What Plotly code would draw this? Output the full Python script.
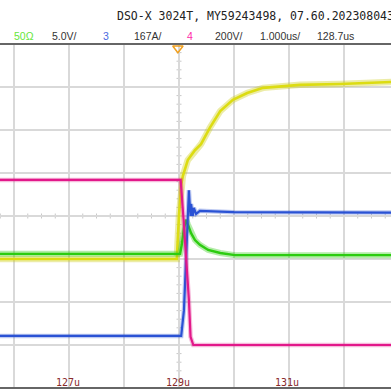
import numpy as np
import plotly.graph_objects as go

# ---- data (time in microseconds, level in screen divisions) ----
yellow_t = [125.70, 128.96, 129.00, 129.04, 129.07, 129.16, 129.29, 129.40, 129.56, 129.75, 129.98, 130.24, 130.53, 130.84, 131.20, 131.93, 132.90]
yellow_v = [-1.00, -1.00, 0.02, 0.72, 0.93, 1.30, 1.53, 1.67, 2.05, 2.44, 2.70, 2.86, 2.98, 3.02, 3.05, 3.07, 3.12]

green_t = [125.70, 129.02, 129.05, 129.09, 129.13, 129.16, 129.22, 129.29, 129.38, 129.53, 129.75, 130.02, 132.90]
green_v = [-0.88, -0.88, -0.67, -0.28, -0.09, -0.19, -0.40, -0.56, -0.67, -0.79, -0.86, -0.91, -0.91]

blue_t = [125.70, 129.04, 129.09, 129.13, 129.15, 129.18, 129.19, 129.21, 129.22, 129.25, 129.27, 129.31, 129.38, 130.00, 132.90]
blue_v = [-2.79, -2.79, -2.19, -1.02, -0.09, 0.60, 0.37, 0.00, 0.28, 0.00, 0.19, 0.05, 0.12, 0.09, 0.08]

magenta_t = [125.70, 129.03, 129.09, 129.15, 129.18, 129.21, 129.26, 132.90]
magenta_v = [0.84, 0.84, -0.21, -1.26, -1.95, -2.81, -3.00, -3.00]

time_labels = ["127u", "129u", "131u", "133u"]
time_label_pos = [127, 129, 131, 133]
trigger_time = 129.0

header_line1 = "DSO-X 3024T, MY59243498, 07.60.2023080430"
header_items = [("50Ω", "#66e63a"), ("5.0V/", "#333333"), ("3", "#4a6ae0"), ("167A/", "#333333"),
                ("4", "#ff2aa8"), ("200V/", "#333333"), ("1.000us/", "#333333"), ("128.7us", "#333333")]
header_x_px = [12, 50, 101, 132, 185, 213, 258, 315]

# ---- figure ----
W = H = 391
X0, X1 = 125.745, 132.855
fig = go.Figure()

styles = [(yellow_t, yellow_v, "#dcdc12", "rgba(200,200,0,0.35)", 2.6, 6.5),
          (green_t, green_v, "#2ccc10", "rgba(40,200,10,0.35)", 2.4, 6),
          (blue_t, blue_v, "#2a52d4", "rgba(40,80,210,0.30)", 2.2, 4.5),
          (magenta_t, magenta_v, "#e2188a", "rgba(225,25,135,0.30)", 2.2, 4.5)]
for t, v, c, band, w, bw in styles:
    fig.add_trace(go.Scatter(x=t, y=v, mode="lines", line=dict(color=band, width=bw),
                             hoverinfo="skip", showlegend=False))
    fig.add_trace(go.Scatter(x=t, y=v, mode="lines", line=dict(color=c, width=w),
                             hoverinfo="skip", showlegend=False))

# trigger marker
fig.add_trace(go.Scatter(x=[trigger_time - 0.02], y=[3.9], mode="markers",
                         marker=dict(symbol="triangle-down-open", size=9, color="#f0a020",
                                     line=dict(width=1.5, color="#f0a020")),
                         hoverinfo="skip", showlegend=False))

shapes = []
px_per_us = 55.0
px_per_div = 43.0
for y in np.arange(-4, 4.001, 0.2):
    if abs(y - round(y)) < 1e-6:
        continue
    shapes.append(dict(type="line", xref="x", yref="y", x0=129 - 2.5 / px_per_us, x1=129 + 2.5 / px_per_us,
                       y0=y, y1=y, line=dict(color="#c8c8c8", width=1), layer="below"))
for t in np.arange(125.75, 132.9, 0.25):
    if abs(t - round(t)) < 1e-6:
        continue
    shapes.append(dict(type="line", xref="x", yref="y", x0=t, x1=t,
                       y0=-2.5 / px_per_div, y1=2.5 / px_per_div, line=dict(color="#c8c8c8", width=1), layer="below"))
shapes.append(dict(type="line", xref="paper", yref="paper", x0=0, x1=1, y0=1, y1=1, line=dict(color="#666666", width=2)))
shapes.append(dict(type="line", xref="paper", yref="paper", x0=0, x1=1, y0=0, y1=0, line=dict(color="#666666", width=2)))

annotations = []
annotations.append(dict(text=header_line1, xref="paper", yref="paper", x=115 / W, y=1, yshift=28,
                        xanchor="left", yanchor="middle", showarrow=False,
                        font=dict(family="DejaVu Sans Mono", size=11.5, color="#222222")))
for (txt, col), xp in zip(header_items, header_x_px):
    annotations.append(dict(text=txt, xref="paper", yref="paper", x=xp / W, y=1, yshift=8.5,
                            xanchor="left", yanchor="middle", showarrow=False,
                            font=dict(family="Liberation Sans", size=10.5, color=col)))
for lab, pos in zip(time_labels, time_label_pos):
    annotations.append(dict(text=lab, xref="x", yref="y", x=pos, y=-4, yshift=6, xshift=-1.5,
                            xanchor="center", yanchor="middle", showarrow=False,
                            font=dict(family="DejaVu Sans Mono", size=10, color="#8a2a2a")))

fig.update_layout(
    width=W, height=H, margin=dict(l=0, r=0, t=44, b=3),
    paper_bgcolor="white", plot_bgcolor="white",
    shapes=shapes, annotations=annotations,
    xaxis=dict(range=[X0, X1], dtick=1, tick0=0, showgrid=True, gridcolor="#d9d9d9", gridwidth=1.5,
               showticklabels=False, zeroline=False, showline=False, ticks=""),
    yaxis=dict(range=[-4, 4], dtick=1, tick0=0, showgrid=True, gridcolor="#d9d9d9", gridwidth=1.5,
               showticklabels=False, zeroline=False, showline=False, ticks=""),
)

fig.write_html("out.html")
